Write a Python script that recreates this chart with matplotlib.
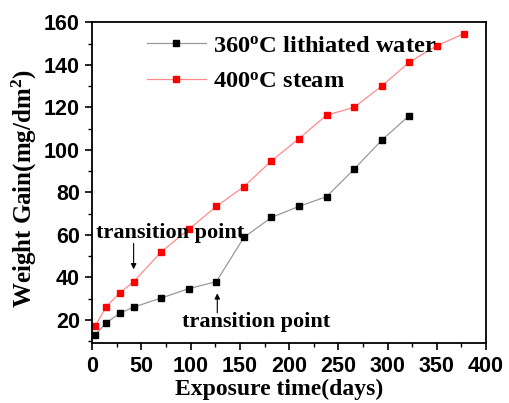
import matplotlib
matplotlib.use("Agg")
import matplotlib.pyplot as plt
from matplotlib.ticker import MultipleLocator

# exposure days and weight gain (mg/dm^2)
days_water = [3, 14, 28, 42, 70, 98, 126, 154, 182, 210, 238, 266, 294, 322]
gain_water = [13.0, 18.6, 23.1, 26.0, 30.3, 34.7, 38.0, 58.8, 68.2, 73.4, 78.0, 90.9, 104.5, 116.1]

days_steam = [3, 14, 28, 42, 70, 98, 126, 154, 182, 210, 238, 266, 294, 322, 350, 378]
gain_steam = [17.0, 26.2, 32.7, 38.0, 52.0, 62.6, 73.4, 82.7, 94.8, 105.3, 116.3, 120.0, 130.0, 141.2, 149.0, 154.7]

label_water = "360$^{\\mathrm{o}}$C lithiated water"
label_steam = "400$^{\\mathrm{o}}$C steam"

plt.rcParams["mathtext.fontset"] = "custom"
plt.rcParams["mathtext.rm"] = "Liberation Serif:bold"
plt.rcParams["mathtext.it"] = "Liberation Serif:bold"
plt.rcParams["mathtext.bf"] = "Liberation Serif:bold"

serif = dict(family="Liberation Serif", weight="bold")

fig = plt.figure(figsize=(5.09, 4.03), dpi=100)
ax = fig.add_axes([0.1813, 0.1481, 0.9548 - 0.1813, 0.9447 - 0.1481])

ax.plot(days_water, gain_water, color="#999999", lw=0.9, marker="s", ms=4.5,
        mfc="black", mec="black", label=label_water)
ax.plot(days_steam, gain_steam, color="#ff8c8c", lw=0.9, marker="s", ms=4.5,
        mfc="#ff0000", mec="#ff0000", label=label_steam)

ax.set_xlim(0, 400)
ax.set_ylim(9, 160)
ax.xaxis.set_major_locator(MultipleLocator(50))
ax.xaxis.set_minor_locator(MultipleLocator(25))
ax.yaxis.set_major_locator(MultipleLocator(20))
ax.yaxis.set_minor_locator(MultipleLocator(10))
ax.tick_params(which="major", direction="out", length=5, width=1.2, pad=4)
ax.tick_params(which="minor", direction="out", length=3, width=1.0)
for lab in ax.get_xticklabels() + ax.get_yticklabels():
    lab.set_fontfamily("Liberation Sans")
    lab.set_fontweight("bold")
    lab.set_fontsize(15.5)
for sp in ax.spines.values():
    sp.set_linewidth(1.3)

ax.set_xlabel("Exposure time(days)", fontsize=17, **serif)
ax.xaxis.set_label_coords(0.475, -0.112)
ax.set_ylabel("Weight Gain(mg/dm$^{\\mathrm{2}}$)", fontsize=18, **serif)
ax.yaxis.set_label_coords(-0.135, 0.481)

leg = ax.legend(loc="upper left", bbox_to_anchor=(0.139, 0.962), frameon=False,
                prop=dict(family="Liberation Serif", weight="bold", size=17.6),
                handlelength=2.4, handletextpad=0.28, labelspacing=0.58,
                borderpad=0, borderaxespad=0)

# transition point markers
ax.annotate("", xy=(42, gain_steam[3] + 4.5), xytext=(42, 57.3),
            arrowprops=dict(arrowstyle="-|>", color="black", lw=0.8, mutation_scale=8))
ax.text(79, 58.5, "transition point", ha="center", va="baseline", fontsize=16, **serif)

ax.annotate("", xy=(127, gain_water[6] - 4.2), xytext=(127, 22.0),
            arrowprops=dict(arrowstyle="-|>", color="black", lw=0.8, mutation_scale=8))
ax.text(166, 16.6, "transition point", ha="center", va="baseline", fontsize=16, **serif)

fig.savefig("out.png", dpi=100)
